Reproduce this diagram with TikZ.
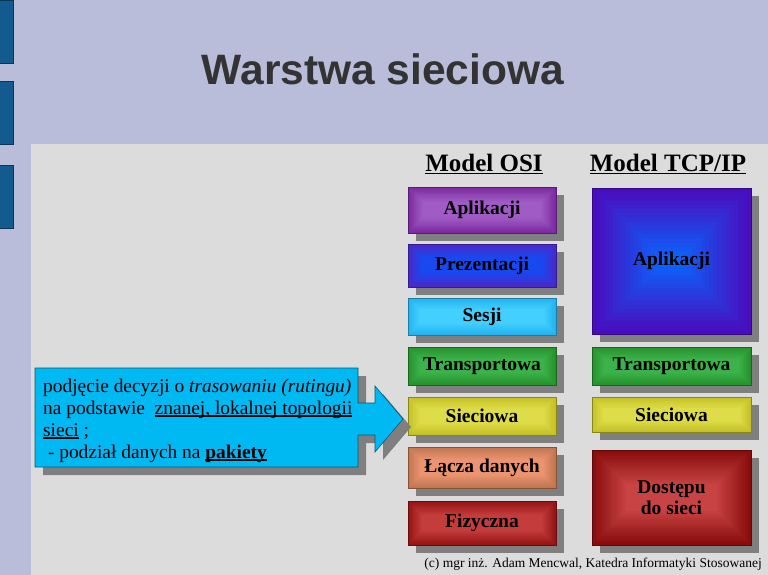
\documentclass[tikz,border=0pt]{standalone}
\usepackage{fontspec}
\setmainfont{Liberation Serif}
\newfontfamily\titlefont{Liberation Sans}
\newsavebox\ulbox
\newcommand\myul[1]{\sbox\ulbox{#1}\rlap{\rule[-0.13em]{\wd\ulbox}{0.055em}}\usebox\ulbox}
\definecolor{bgl}{HTML}{B9BDD9}
\definecolor{panel}{HTML}{DCDCDC}
\definecolor{barblue}{HTML}{135B8E}
\definecolor{shadowg}{HTML}{7F7F7F}
\definecolor{titlec}{HTML}{333333}
\definecolor{callc}{HTML}{00B8F2}
\definecolor{apO}{HTML}{7C2AA0}\definecolor{apI}{HTML}{A05CC4}
\definecolor{prO}{HTML}{4A28C8}\definecolor{prI}{HTML}{1848F0}
\definecolor{seO}{HTML}{22B2F0}\definecolor{seI}{HTML}{44D0FF}
\definecolor{trO}{HTML}{26922C}\definecolor{trI}{HTML}{3CB24A}
\definecolor{siO}{HTML}{C4C026}\definecolor{siI}{HTML}{DEDC48}
\definecolor{lcO}{HTML}{C07650}\definecolor{lcI}{HTML}{EC9470}
\definecolor{fiO}{HTML}{961414}\definecolor{fiI}{HTML}{C43C3C}
\definecolor{taO}{HTML}{4A0CBC}\definecolor{taI}{HTML}{0C62FA}
\definecolor{doO}{HTML}{880C0C}\definecolor{doI}{HTML}{C84444}
\tikzset{
  boxtext/.style={font=\fontsize{19.5}{21}\selectfont\bfseries, text=black, align=center, inner sep=0pt},
  calltext/.style={font=\fontsize{19.4}{22}\selectfont, text=black, anchor=base west, inner sep=0pt},
  header/.style={font=\fontsize{25}{28}\selectfont\bfseries, text=black, anchor=base, inner sep=0pt},
}
% #1 name, #2 x1, #3 y1, #4 x2, #5 y2, #6 outer, #7 inner, #8 factor, #9 text
\newcommand\layerbox[9]{%
  \fill[shadowg] ({#2+8},{#3+8}) rectangle ({#4+8},{#5+8});
  \pgfmathsetmacro\insmax{min(#4-#2,#5-#3)*#8}%
  \foreach \k in {0,...,16}{%
    \pgfmathsetmacro\ins{\k*\insmax/16}%
    \pgfmathtruncatemacro\pc{\k*100/16}%
    \fill[#7!\pc!#6] ({#2+\ins},{#3+\ins}) rectangle ({#4-\ins},{#5-\ins});
  }
  \draw[#6!70!black, line width=0.8pt] (#2,#3) rectangle (#4,#5);
  \node[boxtext] (#1) at ({(#2+#4)/2},{(#3+#5)/2}) {#9};
}
\begin{document}
\begin{tikzpicture}[x=1pt,y=-1pt]
\useasboundingbox (0,0) rectangle (768,575);
\fill[bgl] (0,0) rectangle (768,575);
\fill[panel] (31,144) rectangle (768,575);
\foreach \a/\b in {0/63,81/144,165/228}{
  \draw[fill=barblue, draw=barblue!60!black, line width=0.8pt] (-1,\a) rectangle (13,\b);
}
\node[font=\titlefont\fontsize{42.5}{46}\selectfont\bfseries, text=titlec, anchor=base, inner sep=0pt] (title) at (383,85) {Warstwa sieciowa};

\node[header] (hosi) at (484,171) {\myul{Model OSI}};
\node[header] (htcp) at (668,171) {\myul{Model TCP/IP}};

\layerbox{osi7}{408}{187}{556}{233}{apO}{apI}{0.32}{Aplikacji}
\layerbox{osi6}{408}{244}{556}{287}{prO}{prI}{0.32}{Prezentacji}
\layerbox{osi5}{408}{298}{556}{335}{seO}{seI}{0.32}{Sesji}
\layerbox{osi4}{408}{347}{556}{385}{trO}{trI}{0.32}{Transportowa}
\layerbox{osi3}{408}{397}{556}{435}{siO}{siI}{0.32}{Sieciowa}
\layerbox{osi2}{408}{447}{556}{488}{lcO}{lcI}{0.32}{Łącza danych}
\layerbox{osi1}{408}{501}{556}{545}{fiO}{fiI}{0.32}{Fizyczna}

\layerbox{tcp4}{592}{188}{751}{334}{taO}{taI}{0.46}{Aplikacji}
\layerbox{tcp3}{592}{347}{751}{385}{trO}{trI}{0.32}{Transportowa}
\layerbox{tcp2}{592}{397}{751}{432}{siO}{siI}{0.32}{Sieciowa}
\layerbox{tcp1}{592}{450}{751}{545}{doO}{doI}{0.36}{Dostępu\\do sieci}

% callout with arrow
\fill[shadowg] (43,376) -- (366,376) -- (366,411) -- (383,411) -- (383,394) -- (411,427) -- (383,460) -- (383,443) -- (366,443) -- (366,475) -- (43,475) -- cycle;
\draw[fill=callc, draw=callc!50!black, line width=0.6pt] (35,368) -- (358,368) -- (358,403) -- (375,403) -- (375,386) -- (403,419) -- (375,452) -- (375,435) -- (358,435) -- (358,467) -- (35,467) -- cycle;
\node[calltext] (c1) at (43,392) {podjęcie decyzji o \textit{trasowaniu (rutingu)}};
\node[calltext] (c2) at (43,414) {na podstawie\ \ \myul{znanej, lokalnej topologii}};
\node[calltext] (c3) at (43,436) {\myul{sieci} ;};
\node[calltext] (c4) at (43,458) {\ - podział danych na \myul{\textbf{pakiety}}};

\node[font=\fontsize{13.5}{15}\selectfont, text=black, anchor=base east, inner sep=0pt] (foot) at (762,567) {(c) mgr inż. Adam Mencwal, Katedra Informatyki Stosowanej};
\end{tikzpicture}
\end{document}
